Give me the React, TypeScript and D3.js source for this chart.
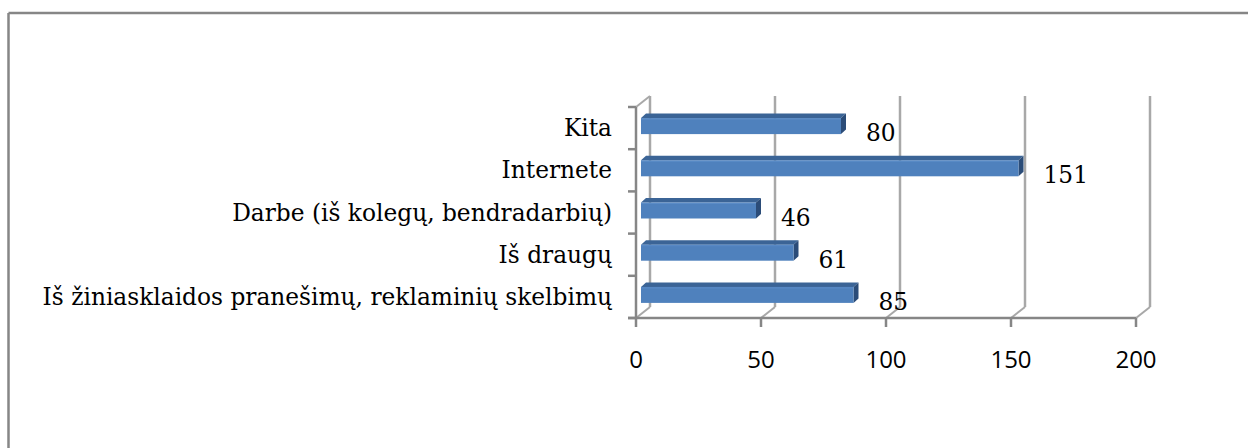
import React from "react";
import * as d3 from "d3";

const categories = [
  "Kita",
  "Internete",
  "Darbe (iš kolegų, bendradarbių)",
  "Iš draugų",
  "Iš žiniasklaidos pranešimų, reklaminių skelbimų",
];
const values = [80, 151, 46, 61, 85];
const xTicks = [0, 50, 100, 150, 200];

const W = 1248;
const H = 448;
const DX = 14; // depth offset of back wall
const DY = -11;
const BDX = 5; // bar front face depth
const BDEPTH_X = 5; // bar thickness (depth)
const BDEPTH_Y = -4.5;
const BAR_H = 16;
const SERIF = "'DejaVu Serif', serif";

export default function App() {
  const x = d3.scaleLinear().domain([0, 200]).range([636, 1136]);
  const y = d3.scaleBand<string>().domain(categories).range([107, 318]);
  const bw = y.bandwidth();
  const yTop = 107;
  const yBot = 318;
  const grey = "#868686";
  const grid = "#a8a8a8";

  const boundaries = d3.range(categories.length + 1).map((i) => yTop + i * bw);

  return (
    <svg
      width={W}
      height={H}
      style={{ position: "absolute", left: 0, top: 0, background: "#fff" }}
    >
      {/* outer border (top and left) */}
      <line x1={8.5} y1={13} x2={W} y2={13} stroke={grey} strokeWidth={2.5} />
      <line x1={8.5} y1={13} x2={8.5} y2={H} stroke={grey} strokeWidth={2.5} />

      {/* back wall gridlines */}
      {xTicks.map((t) => (
        <g key={"g" + t}>
          <line
            x1={x(t) + DX}
            x2={x(t) + DX}
            y1={yTop + DY}
            y2={yBot + DY}
            stroke={grid}
            strokeWidth={2.5}
          />
          <line
            x1={x(t) + DX}
            y1={yBot + DY}
            x2={x(t)}
            y2={yBot}
            stroke={grid}
            strokeWidth={2}
          />
        </g>
      ))}

      {/* left wall top diagonal */}
      <line
        x1={x(0)}
        y1={yTop}
        x2={x(0) + DX}
        y2={yTop + DY}
        stroke={grid}
        strokeWidth={2}
      />

      {/* left axis line */}
      <line x1={x(0)} x2={x(0)} y1={yTop} y2={yBot} stroke={grey} strokeWidth={2.5} />
      {boundaries.map((b, i) => (
        <line key={"lt" + i} x1={x(0) - 8} x2={x(0)} y1={b} y2={b} stroke={grey} strokeWidth={2.5} />
      ))}

      {/* bottom axis line */}
      <line x1={x(0) - 8} x2={x(200)} y1={yBot} y2={yBot} stroke={grey} strokeWidth={2.5} />
      {xTicks.map((t) => (
        <line key={"bt" + t} x1={x(t)} x2={x(t)} y1={yBot} y2={yBot + 9} stroke={grey} strokeWidth={2.5} />
      ))}

      {/* bars */}
      {categories.map((c, i) => {
        const v = values[i];
        const x0 = x(0) + BDX;
        const x1 = x(v) + BDX;
        const cy = (y(c) as number) + bw / 2 - 2;
        const t0 = cy - BAR_H / 2;
        const t1 = cy + BAR_H / 2;
        const top = `M${x0},${t0} L${x0 + BDEPTH_X},${t0 + BDEPTH_Y} L${x1 + BDEPTH_X},${t0 + BDEPTH_Y} L${x1},${t0} Z`;
        const end = `M${x1},${t0} L${x1 + BDEPTH_X},${t0 + BDEPTH_Y} L${x1 + BDEPTH_X},${t1 + BDEPTH_Y} L${x1},${t1} Z`;
        return (
          <g key={"bar" + i}>
            <path d={top} fill="#3b6496" />
            <path d={end} fill="#2b4c78" />
            <rect x={x0} y={t0} width={x1 - x0} height={BAR_H} fill="#4f81bd" />
            <line x1={x0} x2={x1} y1={t0 + 1} y2={t0 + 1} stroke="#5b8cc7" strokeWidth={1} />
          </g>
        );
      })}

      {/* value labels */}
      {categories.map((c, i) => (
        <text
          key={"vl" + i}
          x={x(values[i]) + BDX + BDEPTH_X + 20}
          y={(y(c) as number) + bw / 2 + 13}
          style={{ fontFamily: SERIF, fontSize: "23.3px" }}
          fill="#000"
        >
          {values[i]}
        </text>
      ))}

      {/* category labels */}
      {categories.map((c) => (
        <text
          key={"cl" + c}
          x={612}
          y={(y(c) as number) + bw / 2 + 8}
          textAnchor="end"
          style={{ fontFamily: SERIF, fontSize: "23.3px" }}
          fill="#000"
        >
          {c}
        </text>
      ))}

      {/* x tick labels */}
      {xTicks.map((t) => (
        <text
          key={"xl" + t}
          x={x(t)}
          y={368}
          textAnchor="middle"
          style={{ fontFamily: "'Open Sans', sans-serif", fontSize: "24px" }}
          fill="#000"
        >
          {t}
        </text>
      ))}
    </svg>
  );
}
